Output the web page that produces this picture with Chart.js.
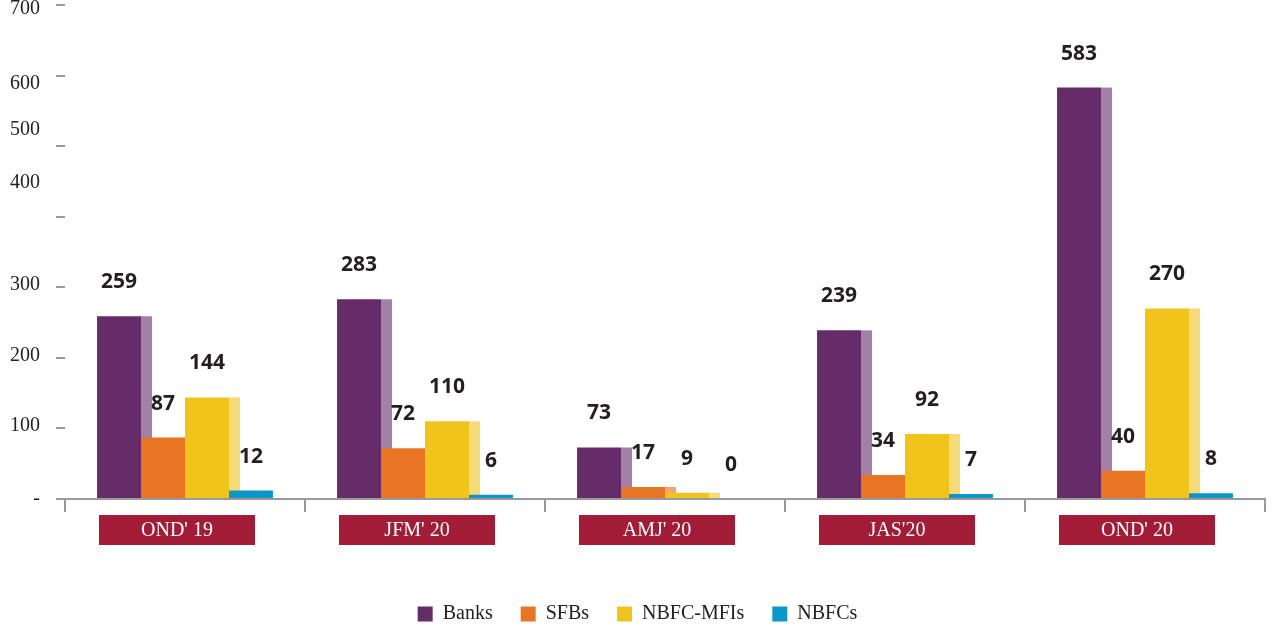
<!DOCTYPE html>
<html>
<head>
<meta charset="utf-8">
<script src="https://cdn.jsdelivr.net/npm/chart.js@4"></script>
<style>
  html, body { margin: 0; padding: 0; background: #fff; }
  #wrap { width: 1286px; height: 634px; }
</style>
</head>
<body>
<div id="wrap"><canvas id="chart"></canvas></div>
<script>
// ---- data ----
const categories = ["OND' 19", "JFM' 20", "AMJ' 20", "JAS'20", "OND' 20"];
const banks    = [259, 283, 73, 239, 583];
const sfbs     = [87, 72, 17, 34, 40];
const nbfcMfis = [144, 110, 9, 92, 270];
const nbfcs    = [12, 6, 0, 7, 8];

// y tick labels sit a little off their tick marks in the source
const yLabelText   = ["700", "600", "500", "400", "300", "200", "100", "-"];
const yLabelValues = [694, 589, 523, 448, 303, 203, 104, 0];

const serif = "'Liberation Serif', 'Times New Roman', serif";

// lighter strip on the right side of each bar (the faux 3D edge)
const sideStrip = {
  id: "sideStrip",
  beforeDatasetsDraw(chart) {
    const ctx = chart.ctx;
    ctx.save();
    chart.data.datasets.forEach((ds, i) => {
      if (!ds.sideColor) return;
      chart.getDatasetMeta(i).data.forEach(bar => {
        const p = bar.getProps(["x", "y", "base", "width"], true);
        ctx.fillStyle = ds.sideColor;
        ctx.fillRect(p.x + p.width / 2, p.y, 11, p.base - p.y);
      });
    });
    ctx.restore();
  }
};

// value labels above the bars
const valueLabels = {
  id: "valueLabels",
  afterDatasetsDraw(chart) {
    const ctx = chart.ctx;
    ctx.save();
    ctx.font = "bold 21px 'Open Sans', 'DejaVu Sans', sans-serif";
    ctx.fillStyle = "#231f20";
    ctx.textAlign = "center";
    ctx.textBaseline = "middle";
    chart.data.datasets.forEach((ds, i) => {
      chart.getDatasetMeta(i).data.forEach((bar, j) => {
        const p = bar.getProps(["x", "y"], true);
        ctx.fillText(String(ds.data[j]), p.x, p.y - 34);
      });
    });
    ctx.restore();
  }
};

// red category boxes under the axis
const categoryBoxes = {
  id: "categoryBoxes",
  afterDraw(chart) {
    const ctx = chart.ctx;
    const xs = chart.scales.x;
    ctx.save();
    ctx.textAlign = "center";
    ctx.textBaseline = "middle";
    ctx.font = "20px " + serif;
    xs.ticks.forEach((t, i) => {
      const cx = xs.getPixelForTick(i) - 8;
      const top = xs.top + 16;
      ctx.fillStyle = "#a31c37";
      ctx.fillRect(cx - 78, top, 156, 30);
      ctx.fillStyle = "#ffffff";
      ctx.fillText(categories[i], cx, top + 16);
    });
    ctx.restore();
  }
};

new Chart(document.getElementById("chart"), {
  type: "bar",
  data: {
    labels: categories,
    datasets: [
      { label: "Banks", data: banks, backgroundColor: "#652c69", sideColor: "#a281a9", yAxisID: "y" },
      { label: "SFBs", data: sfbs, backgroundColor: "#e87524", sideColor: "#f0a677", yAxisID: "y" },
      { label: "NBFC-MFIs", data: nbfcMfis, backgroundColor: "#f1c41c", sideColor: "#f6db76", yAxisID: "y" },
      { label: "NBFCs", data: nbfcs, backgroundColor: "#0c97cb", yAxisID: "y" }
    ]
  },
  options: {
    responsive: true,
    maintainAspectRatio: false,
    animation: false,
    datasets: {
      bar: { barPercentage: 1, categoryPercentage: 0.733, borderWidth: 0 }
    },
    layout: { padding: { left: 10, right: 21, top: 4, bottom: 0 } },
    scales: {
      x: {
        grid: { display: true, drawOnChartArea: false, offset: true, tickLength: 13, color: "#9a9a9a", lineWidth: 2 },
        border: { display: true, color: "#9a9a9a", width: 2 },
        ticks: { color: "rgba(0,0,0,0)", font: { size: 20, family: serif }, padding: 20 }
      },
      y: {
        position: "left",
        weight: 0,
        min: 0,
        max: 700,
        grid: { drawOnChartArea: false, tickLength: 9, color: "#9a9a9a", lineWidth: 2 },
        border: { display: false },
        ticks: { display: false, stepSize: 100 }
      },
      yl: {
        position: "left",
        weight: 1,
        min: 0,
        max: 700,
        grid: { display: true, drawOnChartArea: false, tickLength: 16, color: "rgba(0,0,0,0)" },
        border: { display: false },
        afterBuildTicks: axis => { axis.ticks = yLabelValues.map(v => ({ value: v })); },
        ticks: {
          autoSkip: false,
          padding: 0,
          color: "#222",
          font: { size: 20, family: serif, lineHeight: 0.5 },
          callback: (value, index) => yLabelText[index]
        }
      }
    },
    plugins: {
      legend: {
        position: "bottom",
        labels: {
          boxWidth: 15,
          boxHeight: 15,
          padding: 28,
          color: "#222",
          font: { size: 20, family: serif }
        }
      },
      tooltip: { enabled: false }
    }
  },
  plugins: [sideStrip, valueLabels, categoryBoxes]
});
</script>
</body>
</html>
